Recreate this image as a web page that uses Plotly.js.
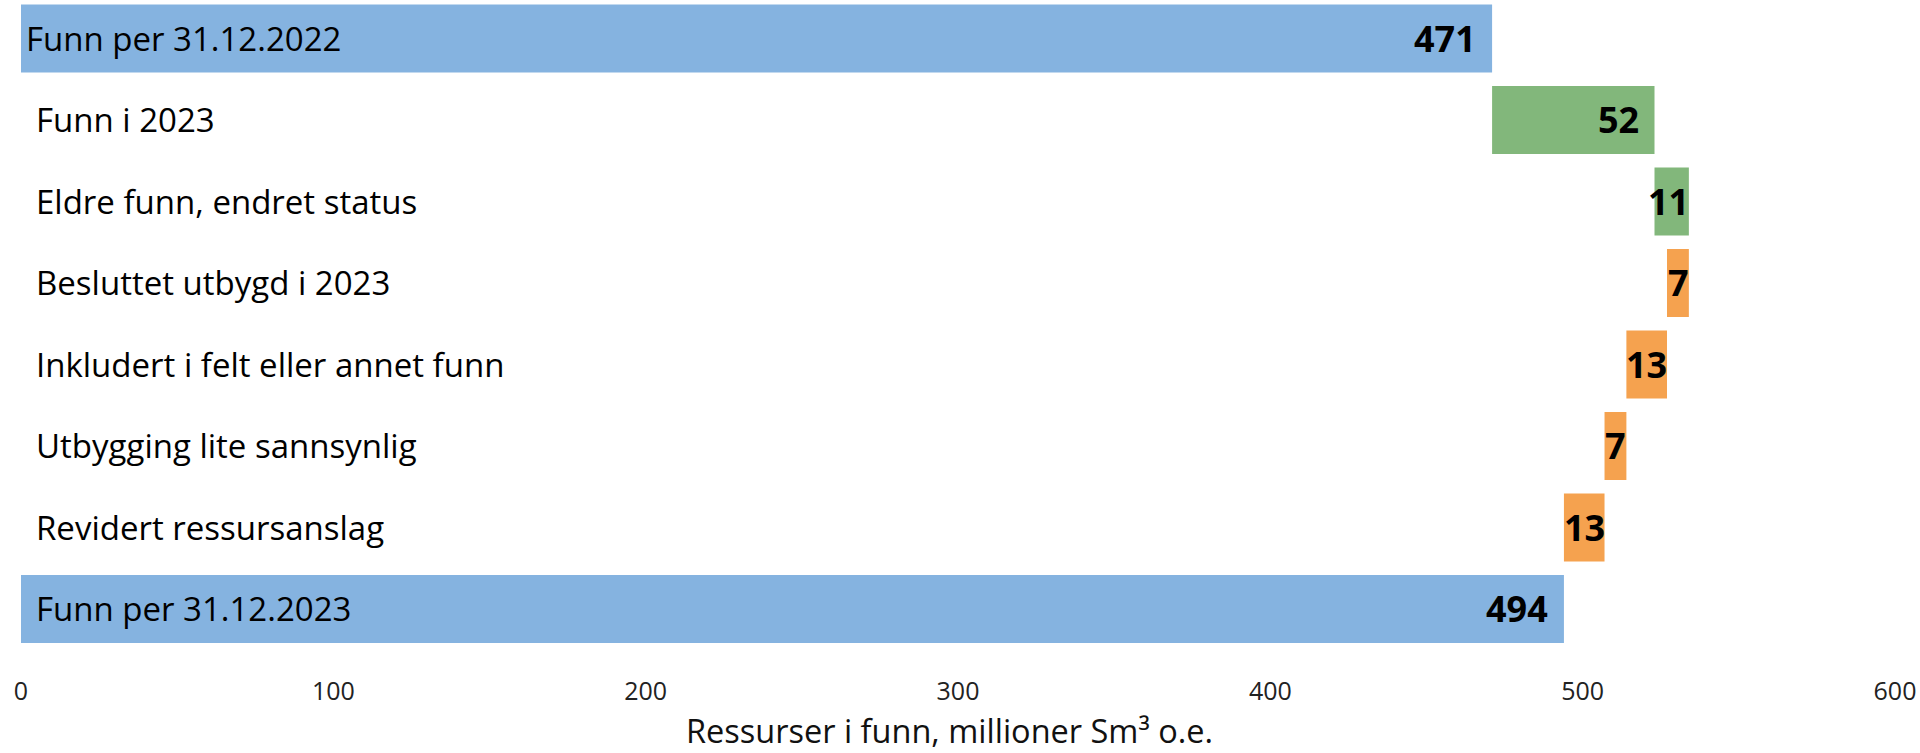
<!DOCTYPE html>
<html>
<head>
<meta charset="utf-8">
<script src="https://cdn.plot.ly/plotly-3.0.1.min.js"></script>
<style>html,body{margin:0;padding:0;background:#fff}#chart{width:1920px;height:753px}</style>
</head>
<body>
<div id="chart"></div>
<script>
const categories = [
  "Funn per 31.12.2022",
  "Funn i 2023",
  "Eldre funn, endret status",
  "Besluttet utbygd i 2023",
  "Inkludert i felt eller annet funn",
  "Utbygging lite sannsynlig",
  "Revidert ressursanslag",
  "Funn per 31.12.2023"
];
const values = [471, 52, 11, -7, -13, -7, -13, 494];
const measures = ["absolute", "relative", "relative", "relative", "relative", "relative", "relative", "total"];
const labels = ["471", "52", "11", "7", "13", "7", "13", "494"];
const xTicks = [0, 100, 200, 300, 400, 500, 600];
const xTitle = "Ressurser i funn, millioner Sm³ o.e.";

const FONT = "Open Sans, Noto Sans, sans-serif";
const BLUE = "#85b3e0", GREEN = "#82b77b", ORANGE = "#f5a24f";

const trace = {
  type: "waterfall",
  orientation: "h",
  y: categories,
  x: values,
  measure: measures,
  base: 0,
  connector: {visible: false},
  totals: {marker: {color: BLUE, line: {width: 0}}},
  increasing: {marker: {color: GREEN, line: {width: 0}}},
  decreasing: {marker: {color: ORANGE, line: {width: 0}}},
  hoverinfo: "skip",
  textposition: "none"
};

const annotations = [];
let cum = 0;
categories.forEach((c, i) => {
  let start, end;
  if (measures[i] === "absolute" || measures[i] === "total") { start = 0; end = values[i]; cum = values[i]; }
  else { start = cum; end = cum + values[i]; cum = end; }
  const w = Math.abs(end - start);
  const big = w >= 20;
  const hi = Math.max(start, end);
  annotations.push({
    x: hi, y: c, xref: "x", yref: "y",
    text: "<b>" + labels[i] + "</b>", showarrow: false,
    xanchor: "right", xshift: big ? -14 : 2,
    font: {family: FONT, size: 36, color: "#000"}
  });
  annotations.push({
    x: 0, y: c, xref: "x", yref: "y",
    text: c, showarrow: false, xanchor: "left",
    xshift: i === 0 ? 3 : 13,
    font: {family: FONT, size: 33, color: "#000"}
  });
});
annotations.push({
  x: 0.4952, y: 0, xref: "paper", yref: "paper",
  text: xTitle, showarrow: false, xanchor: "center", yanchor: "middle", yshift: -75,
  font: {family: FONT, size: 32.5, color: "#111"}
});

const layout = {
  width: 1920, height: 753,
  margin: {l: 21, r: 25, t: 0, b: 98},
  paper_bgcolor: "#fff", plot_bgcolor: "#fff",
  showlegend: false,
  waterfallgap: 0.166,
  font: {family: FONT, color: "#222"},
  xaxis: {
    range: [0, 600], tickvals: xTicks, ticktext: xTicks.map(String),
    showgrid: false, zeroline: false, showline: false,
    ticks: "outside", ticklen: 14, tickcolor: "rgba(0,0,0,0)",
    tickfont: {family: FONT, size: 25, color: "#222"}
  },
  yaxis: {
    type: "category", categoryorder: "array", categoryarray: categories,
    range: [7.565, -0.472], showticklabels: false, showgrid: false, zeroline: false, showline: false, ticks: ""
  },
  annotations: annotations
};

Plotly.newPlot("chart", [trace], layout, {displayModeBar: false, staticPlot: true});
</script>
</body>
</html>
